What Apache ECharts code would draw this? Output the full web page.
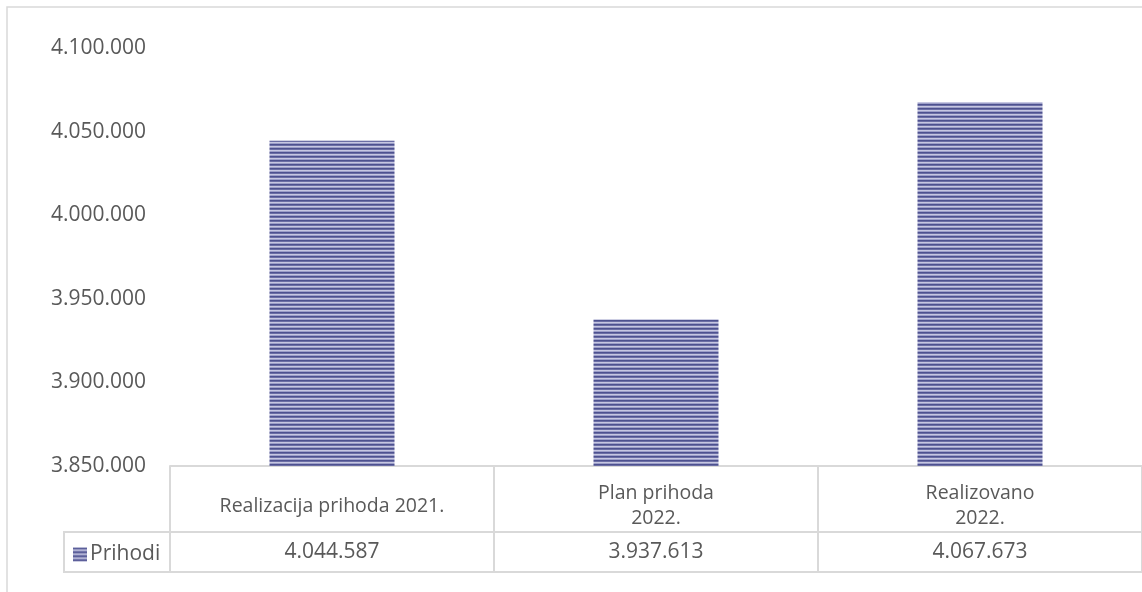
<!DOCTYPE html>
<html><head><meta charset="utf-8">
<script src="https://cdn.jsdelivr.net/npm/echarts@6/dist/echarts.min.js"></script>
<style>html,body{margin:0;padding:0;background:#fff}#c{width:1142px;height:592px}</style>
</head><body><div id="c"></div>
<script>
const categories = ['Realizacija prihoda 2021.', 'Plan prihoda\n2022.', 'Realizovano\n2022.'];
const seriesName = 'Prihodi';
const values = [4044587, 3937613, 4067673];
const yTicks = [3850000, 3900000, 3950000, 4000000, 4050000, 4100000];

function fmt(n) { return String(Math.round(n)).replace(/\B(?=(\d{3})+(?!\d))/g, '.'); }

const pc = document.createElement('canvas');
pc.width = 4; pc.height = 4;
const g = pc.getContext('2d');
['#4d518f', '#6b6ea5', '#c6c7e1', '#9c9ec8'].forEach((c, i) => { g.fillStyle = c; g.fillRect(0, i, 4, 1); });

const FONT = 'Open Sans';
const TXT = '#595959';
const LINE = '#d9d9d9';

const chart = echarts.init(document.getElementById('c'), null, { renderer: 'canvas' });
chart.setOption({
  animation: false,
  backgroundColor: '#fff',
  textStyle: { fontFamily: FONT },
  grid: { left: 170, right: 0, top: 48, bottom: 126 },
  legend: {
    data: [seriesName], left: 73, top: 544, padding: 0,
    itemWidth: 14, itemHeight: 14, icon: 'rect', itemGap: 5,
    textStyle: { fontFamily: FONT, fontSize: 21, color: TXT, padding: [0, 0, 0, -2] }
  },
  xAxis: [
    {
      type: 'category', data: categories, position: 'bottom',
      axisLine: { show: true, lineStyle: { color: LINE, width: 2 } },
      axisTick: { show: true, interval: 0, alignWithLabel: false, length: 106, lineStyle: { color: LINE, width: 2 } },
      axisLabel: { interval: 0, margin: 40, verticalAlign: 'middle', lineHeight: 25, fontFamily: FONT, fontSize: 19.5, color: TXT },
      splitLine: { show: false }
    },
    {
      type: 'category', data: categories, position: 'bottom', offset: 66,
      axisLine: { show: true, lineStyle: { color: LINE, width: 2 } },
      axisTick: { show: false },
      axisLabel: { interval: 0, margin: 20, verticalAlign: 'middle', fontFamily: FONT, fontSize: 21, color: TXT,
        formatter: (v, i) => fmt(values[i]) },
      splitLine: { show: false }
    },
    {
      type: 'category', data: categories, position: 'bottom', offset: 106,
      axisLine: { show: true, lineStyle: { color: LINE, width: 2 } },
      axisTick: { show: false }, axisLabel: { show: false }, splitLine: { show: false }
    }
  ],
  yAxis: {
    type: 'value', min: yTicks[0], max: yTicks[yTicks.length - 1], interval: yTicks[1] - yTicks[0],
    axisLine: { show: false }, axisTick: { show: false }, splitLine: { show: false },
    axisLabel: { margin: 24, fontFamily: FONT, fontSize: 21, color: TXT, formatter: v => fmt(v) }
  },
  series: [{
    name: seriesName, type: 'bar', xAxisIndex: 0, data: values, barWidth: 125,
    itemStyle: { color: { image: pc, repeat: 'repeat' } }
  }],
  graphic: [
    { type: 'rect', silent: true, shape: { x: 7, y: 7, width: 1150, height: 600 },
      style: { fill: 'none', stroke: LINE, lineWidth: 1.5 } },
    { type: 'line', silent: true, shape: { x1: 64, y1: 532, x2: 171, y2: 532 }, style: { stroke: LINE, lineWidth: 2 } },
    { type: 'line', silent: true, shape: { x1: 64, y1: 572, x2: 171, y2: 572 }, style: { stroke: LINE, lineWidth: 2 } },
    { type: 'line', silent: true, shape: { x1: 64, y1: 531, x2: 64, y2: 573 }, style: { stroke: LINE, lineWidth: 2 } }
  ]
});
</script></body></html>
